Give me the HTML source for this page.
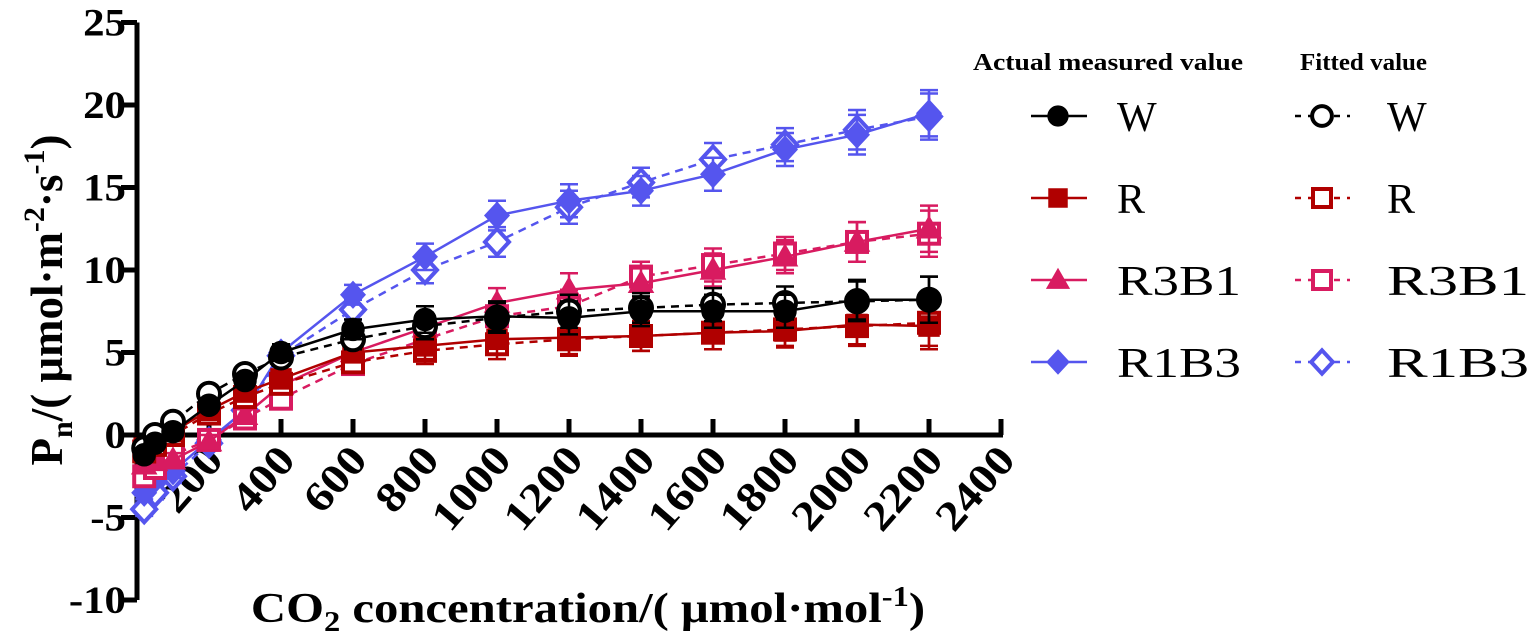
<!DOCTYPE html>
<html><head><meta charset="utf-8"><style>
body{margin:0;background:#fff;width:1535px;height:634px;overflow:hidden}
svg text{font-family:"Liberation Serif",serif}
</style></head><body>
<svg id="chart" width="1535" height="634">
<g id="axes"></g>
<g id="series"></g>
<g id="legend"></g>
</svg>
<script>
const xValues=[20,50,100,200,300,400,600,800,1000,1200,1400,1600,1800,2000,2200];
const wActual=[-1.2,-0.5,0.2,1.8,3.3,5.0,6.4,7.0,7.2,7.1,7.5,7.5,7.5,8.2,8.2];
const wFitted=[-0.8,0,0.8,2.5,3.7,4.7,5.8,6.6,7.1,7.5,7.7,7.9,8.0,8.1,8.2];
const rActual=[-0.8,-0.3,0.2,1.5,2.6,3.4,5.0,5.4,5.8,5.9,6.0,6.2,6.3,6.7,6.6];
const rFitted=[-1.0,-0.6,0,1.3,2.3,3.1,4.4,5.1,5.5,5.8,6.0,6.2,6.4,6.6,6.8];
const r3b1Actual=[-1.8,-1.6,-1.5,-0.4,1.2,3.0,5.0,6.5,8.0,8.8,9.2,10.0,10.8,11.7,12.5];
const r3b1Fitted=[-2.5,-2.0,-1.2,-0.3,1.0,2.2,4.3,5.8,7.2,7.8,9.6,10.3,11.0,11.7,12.2];
const r1b3Actual=[-3.5,-2.7,-2.2,-0.3,1.5,5.0,8.5,10.8,13.3,14.2,14.8,15.8,17.3,18.2,19.5];
const r1b3Fitted=[-4.5,-3.5,-2.5,-0.5,1.5,4.8,7.6,10.0,11.7,13.8,15.3,16.7,17.6,18.5,19.3];
const errSize=[0.4,0.4,0.4,0.4,0.4,0.5,0.6,0.8,0.9,1.0,0.9,1.0,1.0,1.2,1.4];
const xTicks=[200,400,600,800,1000,1200,1400,1600,1800,2000,2200,2400];
const yTicks=[-10,-5,0,5,10,15,20,25];

const NS="http://www.w3.org/2000/svg";
const X0=137,XS=0.36,Y0=435,YS=16.5;
const sx=v=>X0+v*XS, sy=v=>Y0-v*YS;
function el(tag,attrs,parent){const e=document.createElementNS(NS,tag);for(const k in attrs)e.setAttribute(k,attrs[k]);parent.appendChild(e);return e;}
const axes=document.getElementById('axes'),series=document.getElementById('series'),legend=document.getElementById('legend');

let a=el('line',{x1:X0,y1:sy(-10),x2:X0,y2:sy(25),stroke:'#000','stroke-width':5},axes);

a=el('line',{x1:X0,y1:Y0,x2:sx(2400)+2,y2:Y0,stroke:'#000','stroke-width':5},axes);

yTicks.forEach(v=>{
  const t=el('line',{x1:X0-16,y1:sy(v),x2:X0,y2:sy(v),stroke:'#000','stroke-width':5},axes);
  
  const l=el('text',{x:0,y:0,'text-anchor':'end','font-size':39,'font-weight':'bold',transform:`translate(126 ${sy(v)+13}) scale(1.1 1)`},axes);
  l.textContent=v;
});
xTicks.forEach(v=>{
  const t=el('line',{x1:sx(v),y1:Y0,x2:sx(v),y2:Y0-16,stroke:'#000','stroke-width':5},axes);
  
  const s=String(v);
  const l=el('text',{x:0,y:0,'text-anchor':'end','font-size':42,'font-weight':'bold',textLength:s.length*24,lengthAdjust:'spacingAndGlyphs',transform:`translate(${sx(v)+16} ${Y0+26}) rotate(-49)`},axes);
  l.textContent=v;
});
let tt=el('text',{x:0,y:0,'text-anchor':'middle','font-size':42,'font-weight':'bold',transform:'translate(588 622) scale(1.16 1)'},axes);
tt.innerHTML='CO<tspan font-size="28" dy="9">2</tspan><tspan dy="-9"> concentration/( μmol·mol</tspan><tspan font-size="28" dy="-16">-1</tspan><tspan dy="16">)</tspan>';

tt=el('text',{x:0,y:0,'text-anchor':'middle','font-size':45,'font-weight':'bold',transform:'translate(62 300) rotate(-90)'},axes);
tt.innerHTML='P<tspan font-size="30" dy="10">n</tspan><tspan dy="-10">/( μmol·m</tspan><tspan font-size="30" dy="-18">-2</tspan><tspan dy="18">·s</tspan><tspan font-size="30" dy="-18">-1</tspan><tspan dy="18">)</tspan>';


function marker(g,shape,x,y,color,hollow,size){
  const fill=hollow?'#fff':color, sw=hollow?4:1.5;
  let m;
  if(shape==='circle')m=el('circle',{cx:x,cy:y,r:size*0.55,fill,stroke:color,'stroke-width':sw},g);
  else if(shape==='square')m=el('rect',{x:x-size*0.5,y:y-size*0.5,width:size,height:size,fill,stroke:color,'stroke-width':sw},g);
  else if(shape==='triangle')m=el('polygon',{points:`${x},${y-size*0.6} ${x-size*0.6},${y+size*0.45} ${x+size*0.6},${y+size*0.45}`,fill,stroke:color,'stroke-width':sw},g);
  else m=el('polygon',{points:`${x},${y-size*0.65} ${x+size*0.6},${y} ${x},${y+size*0.65} ${x-size*0.6},${y}`,fill,stroke:color,'stroke-width':sw},g);
  return m;
}
function drawSeries(name,vals,color,shape,dashed,hollow){
  const g=el('g',{},series);
  
  const pts=vals.map((v,i)=>sx(xValues[i])+','+sy(v)).join(' ');
  const pl=el('polyline',{points:pts,fill:'none',stroke:color,'stroke-width':2.5,'stroke-dasharray':dashed?'8 6':'none'},g);
  
  vals.forEach((v,i)=>{
    const x=sx(xValues[i]),e=errSize[i];
    const eb=el('path',{d:`M${x},${sy(v-e)}V${sy(v+e)}M${x-9},${sy(v-e)}H${x+9}M${x-9},${sy(v+e)}H${x+9}`,stroke:color,'stroke-width':2.5,fill:'none'},g);
    
    const m=marker(g,shape,x,sy(v),color,hollow,20);
    
  });
}
const BLACK='#000',RED='#b00000',PINK='#d81b60',BLUE='#5555ee';
drawSeries('r1b3-fitted',r1b3Fitted,BLUE,'diamond',true,true);
drawSeries('r1b3-actual',r1b3Actual,BLUE,'diamond',false,false);
drawSeries('r3b1-fitted',r3b1Fitted,PINK,'square',true,true);
drawSeries('r3b1-actual',r3b1Actual,PINK,'triangle',false,false);
drawSeries('r-fitted',rFitted,RED,'square',true,true);
drawSeries('r-actual',rActual,RED,'square',false,false);
drawSeries('w-fitted',wFitted,BLACK,'circle',true,true);
drawSeries('w-actual',wActual,BLACK,'circle',false,false);

let h=el('text',{x:973,y:70,'font-size':24,'font-weight':'bold',textLength:270,lengthAdjust:'spacingAndGlyphs'},legend);h.textContent='Actual measured value';

h=el('text',{x:1300,y:70,'font-size':24,'font-weight':'bold',textLength:127,lengthAdjust:'spacingAndGlyphs'},legend);h.textContent='Fitted value';

const legNames=['W','R','R3B1','R1B3'],legColors=[BLACK,RED,PINK,BLUE],legShapesA=['circle','square','triangle','diamond'],legShapesF=['circle','square','square','diamond'];
legNames.forEach((n,i)=>{
  const y=116+i*82;
  const ga=el('g',{},legend);
  el('line',{x1:1031,y1:y,x2:1087,y2:y,stroke:legColors[i],'stroke-width':2.5},ga);
  marker(ga,legShapesA[i],1058,y,legColors[i],false,18);
  const la={x:1117,y:y+15,'font-size':42};
  if(n.length>1){la.textLength=124;la.lengthAdjust='spacingAndGlyphs';}
  let t=el('text',la,ga);t.textContent=n;
  const gf=el('g',{},legend);
  el('line',{x1:1295,y1:y,x2:1350,y2:y,stroke:legColors[i],'stroke-width':2.5,'stroke-dasharray':'6 7'},gf);
  marker(gf,legShapesF[i],1322,y,legColors[i],true,18);
  const lf={x:1387,y:y+15,'font-size':42};
  if(n.length>1){lf.textLength=142;lf.lengthAdjust='spacingAndGlyphs';}
  t=el('text',lf,gf);t.textContent=n;
});
</script>
</body></html>
